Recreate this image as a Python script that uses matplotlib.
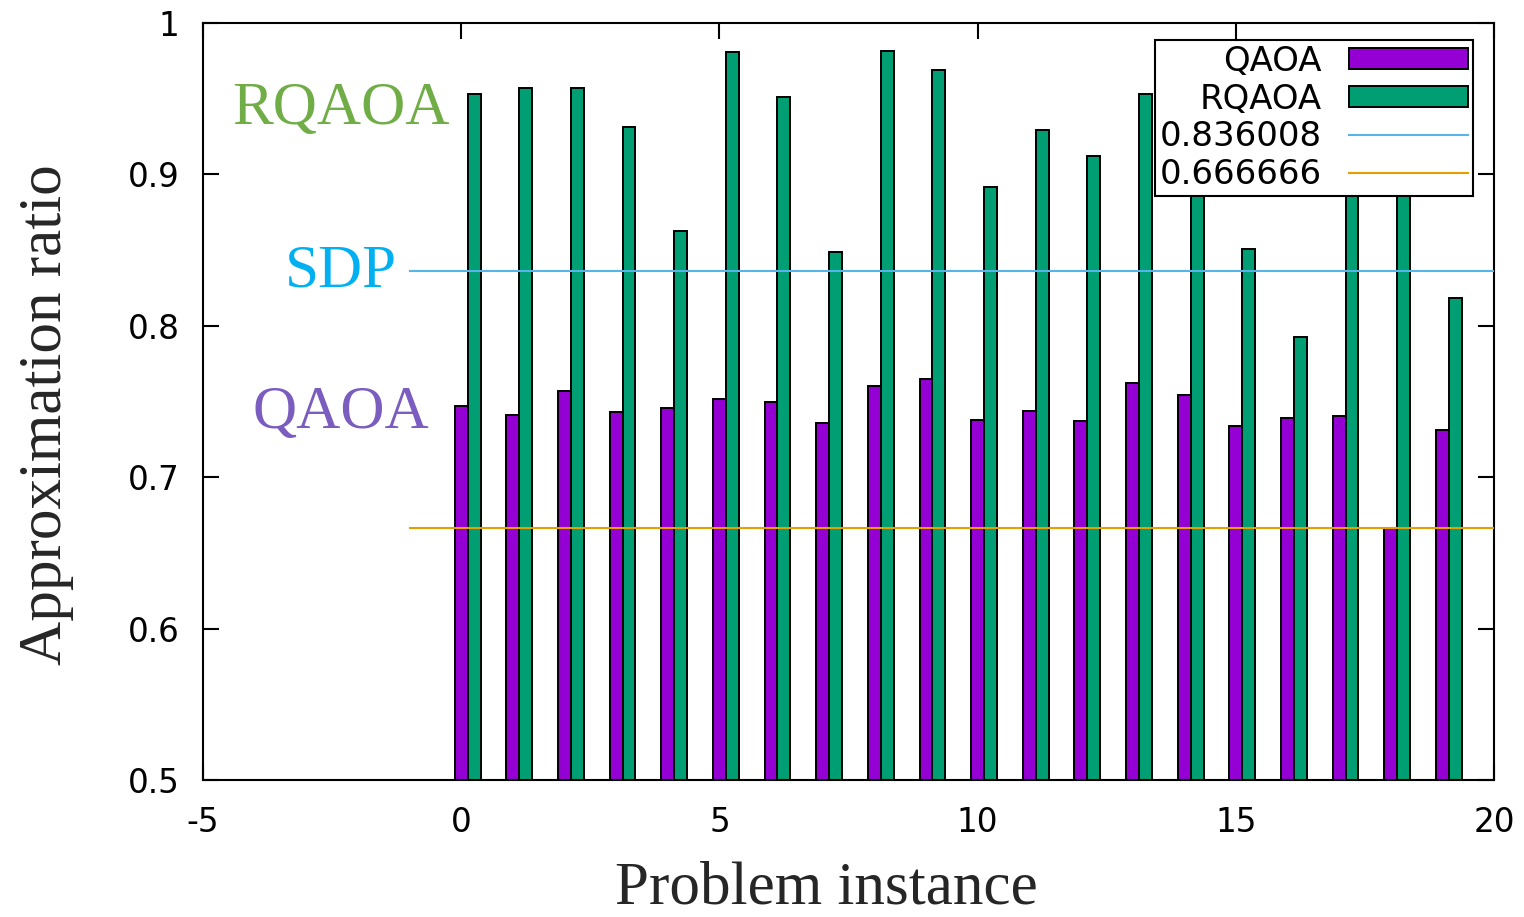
import numpy as np
import matplotlib
matplotlib.use("Agg")
import matplotlib.pyplot as plt

# Approximation ratios per problem instance
instances = list(range(20))
qaoa = [0.747, 0.741, 0.757, 0.743, 0.746, 0.7515, 0.750, 0.736, 0.760, 0.765,
        0.738, 0.744, 0.737, 0.7625, 0.754, 0.7335, 0.739, 0.7405, 0.6666, 0.731]
rqaoa = [0.953, 0.957, 0.957, 0.931, 0.8625, 0.981, 0.951, 0.849, 0.9815, 0.969,
         0.892, 0.9295, 0.912, 0.953, 0.945, 0.851, 0.7925, 0.935, 0.96, 0.8185]

# Reference thresholds
sdp_ratio = 0.836008
base_ratio = 0.666666
line_start, line_end = -1, 20

yticks = [0.5, 0.6, 0.7, 0.8, 0.9, 1.0]
ytick_labels = ["0.5", "0.6", "0.7", "0.8", "0.9", "1"]
xticks = [-5, 0, 5, 10, 15, 20]
xtick_labels = ["-5", "0", "5", "10", "15", "20"]

c_qaoa = "#9400d3"
c_rqaoa = "#009e73"
c_sdp = "#56b4e9"
c_base = "#e69f00"

serif = ["Liberation Serif", "DejaVu Serif"]
text_dark = "#262626"

fig = plt.figure(figsize=(15.24, 9.17), dpi=100)
ax = fig.add_axes([203 / 1524, 1 - 780 / 917, (1494 - 203) / 1524, (780 - 23) / 917])

x = np.array(instances, dtype=float)
bw = 0.25
h_q = ax.bar(x, qaoa, width=bw, bottom=0, color=c_qaoa, edgecolor="black",
             linewidth=1.4, label="QAOA", zorder=2)
h_r = ax.bar(x + bw, rqaoa, width=bw, bottom=0, color=c_rqaoa, edgecolor="black",
             linewidth=1.4, label="RQAOA", zorder=2)
h_s, = ax.plot([line_start, line_end], [sdp_ratio, sdp_ratio], color=c_sdp, lw=1.5,
               label=f"{sdp_ratio:.6f}", zorder=3)
h_b, = ax.plot([line_start, line_end], [base_ratio, base_ratio], color=c_base, lw=1.5,
               label=f"{base_ratio:.6f}", zorder=3)

ax.set_xlim(-5, 20)
ax.set_ylim(0.5, 1.0)
ax.set_xticks(xticks)
ax.set_xticklabels(xtick_labels)
ax.set_yticks(yticks)
ax.set_yticklabels(ytick_labels)
ax.tick_params(axis="both", direction="in", length=11.5, width=1.5,
               top=True, right=True, labelsize=23.5, colors="black")
ax.tick_params(axis="y", pad=17)
ax.tick_params(axis="x", pad=19)
for sp in ax.spines.values():
    sp.set_linewidth(1.5)

handles = [h_q, h_r, h_s, h_b]
labels = [h.get_label() for h in handles]
leg = ax.legend(handles, labels, loc="upper right", bbox_to_anchor=(0.984, 0.978),
                borderaxespad=0, markerfirst=False, fancybox=False,
                framealpha=1, edgecolor="black", fontsize=24.5,
                handlelength=3.5, handleheight=0.58, handletextpad=0.8,
                labelspacing=0.14, borderpad=0.15)
leg.get_frame().set_linewidth(1.5)
leg.set_zorder(5)

# Series annotations beside the axis
ann_x = -2.33
ax.text(ann_x, 0.933, "RQAOA", color="#70ad47", fontsize=44, family=serif,
        ha="center", va="baseline")
ax.text(ann_x, 0.826, "SDP", color="#00b0f0", fontsize=44, family=serif,
        ha="center", va="baseline")
ax.text(ann_x, 0.7325, "QAOA", color="#7b5cbf", fontsize=44, family=serif,
        ha="center", va="baseline")

fig.text(46 / 1524, 1 - 415 / 917, "Approximation ratio", rotation=90,
         fontsize=44, family=serif, color=text_dark, ha="center", va="center")
fig.text(826 / 1524, 1 - 903 / 917, "Problem instance", fontsize=44,
         family=serif, color=text_dark, ha="center", va="baseline")

fig.savefig("out.png", dpi=100)
